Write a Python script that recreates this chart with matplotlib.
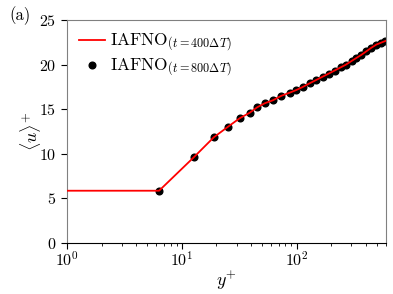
import numpy as np
import matplotlib
matplotlib.use("Agg")
import matplotlib.pyplot as plt

plt.rcParams["font.family"] = "serif"
plt.rcParams["font.serif"] = ["cmr10"]
plt.rcParams["mathtext.fontset"] = "cm"
plt.rcParams["axes.formatter.use_mathtext"] = True
plt.rcParams["axes.unicode_minus"] = False

# mean velocity profile, dots (t = 800 dT)
yplus_800 = [6.34, 12.7, 19.0, 25.3, 31.9, 39.0, 45.2, 52.7, 62.2, 73.6, 87.0, 99.4,
             113.5, 129.7, 147.8, 168.3, 189.8, 214.0, 241.3, 269.4, 300.8, 332.4,
             367.5, 406.1, 449.0, 496.3, 543.0, 594.0]
u_800 = [5.86, 9.6, 11.85, 13.04, 13.98, 14.6, 15.2, 15.66, 16.0, 16.5, 16.85, 17.15,
         17.5, 17.9, 18.27, 18.64, 18.98, 19.33, 19.68, 20.0, 20.4, 20.75,
         21.1, 21.5, 21.9, 22.25, 22.45, 22.65]

# line (t = 400 dT), includes near-wall slip value
yplus_400 = [1.0] + yplus_800
u_400 = [5.86] + u_800

fig = plt.figure(figsize=(3.93, 2.94), dpi=100)
ax = fig.add_axes([0.1705, 0.1735, 0.8115, 0.7585])

ax.plot(yplus_400, u_400, color="red", lw=1.3, zorder=3,
        label=r"IAFNO$_{(t=400\Delta T)}$")
ax.plot(yplus_800, u_800, "o", color="black", ms=4.8, ls="none", zorder=2,
        label=r"IAFNO$_{(t=800\Delta T)}$")

ax.set_xscale("log")
ax.set_xlim(1, 600)
ax.set_ylim(0, 25)
ax.set_yticks([0, 5, 10, 15, 20, 25])
ax.tick_params(axis="both", which="major", labelsize=11.5, direction="out", length=4)
ax.tick_params(axis="x", which="major", pad=1.5)
ax.tick_params(axis="x", which="minor", direction="out", length=2)

for side in ["left", "top", "right"]:
    ax.spines[side].set_color("#808080")
ax.spines["bottom"].set_color("black")

ax.set_xlabel(r"$y^{+}$", fontsize=13, labelpad=0)
ax.set_ylabel(r"$\langle u\rangle^{+}$", fontsize=13)
ax.yaxis.set_label_coords(-0.075, 0.5)

ax.legend(loc="upper left", frameon=False, fontsize=12.5, handlelength=1.5,
          handletextpad=0.3, borderaxespad=0.3, labelspacing=0.15)

fig.text(0.025, 0.93, "(a)", fontsize=12)

fig.savefig("out.png", dpi=100)
